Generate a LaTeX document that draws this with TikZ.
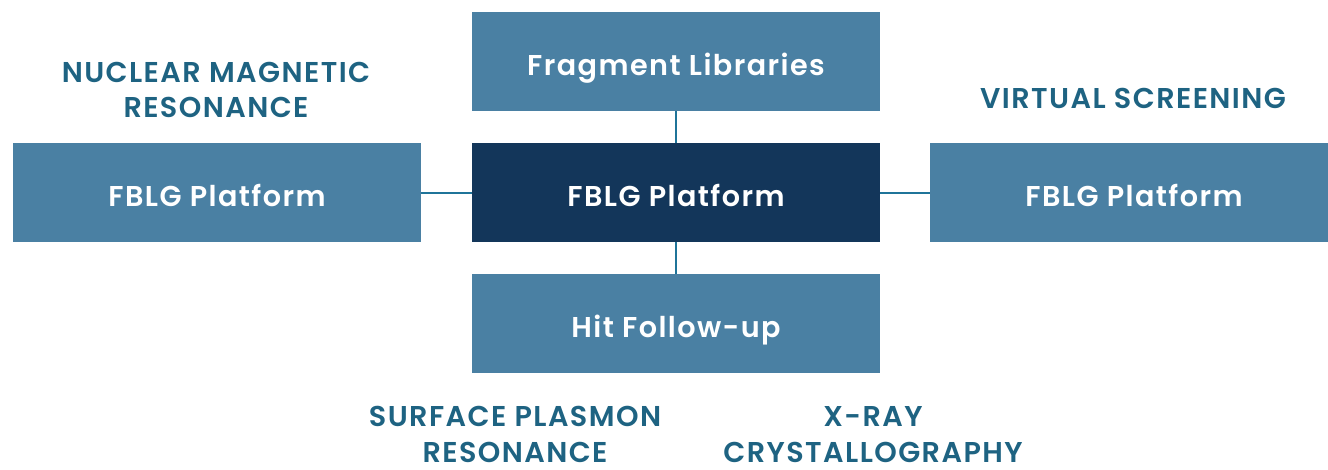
\documentclass[tikz,border=0pt]{standalone}
\usepackage{fontspec}
\setmainfont{Poppins}[BoldFont={Poppins SemiBold}, LetterSpace=5]
\usepackage{tikz}
\usetikzlibrary{positioning}
\usepackage{xcolor}
\definecolor{steel}{HTML}{4A80A3}
\definecolor{deepnavy}{HTML}{13365A}
\definecolor{petrol}{HTML}{1E6382}
\definecolor{linkblue}{HTML}{1F7499}

\tikzset{
  stage/.style={fill=steel, text=white, minimum width=306pt, minimum height=74.25pt,
    inner sep=0pt, text height=21pt, text depth=0.4pt,
    font=\fontsize{21.5}{25}\selectfont\bfseries},
  hub/.style={stage, fill=deepnavy},
  method/.style={text=petrol, align=center, inner sep=0pt,
    font=\fontsize{21.5}{26.5}\selectfont\bfseries},
  link/.style={draw=linkblue, line width=1.5pt}
}

\begin{document}
\begin{tikzpicture}[x=0.75pt, y=0.75pt]
  \useasboundingbox (0,0) rectangle (1328,469);
  % boxes
  \node[hub]   (core)  at (676,276.5) {FBLG Platform};
  \node[stage] (frag)  at (676,407.5) {Fragment Libraries};
  \node[stage] (left)  at (217,276.5) {FBLG Platform};
  \node[stage] (right) at (1134,276.5) {FBLG Platform};
  \node[stage] (hit)   at (676,145.5) {Hit Follow-up};
  % links
  \draw[link] (frag) -- (core);
  \draw[link] (core) -- (hit);
  \draw[link] (left) -- (core);
  \draw[link] (core) -- (right);
  % methods
  \node[method] (nmr) at (216,379) {NUCLEAR MAGNETIC\\RESONANCE};
  \node[method] (vs)  at (1133,371) {VIRTUAL SCREENING};
  \node[method] (spr) at (515,34.5) {SURFACE PLASMON\\RESONANCE};
  \node[method] (xray) at (873,34.5) {X-RAY\\CRYSTALLOGRAPHY};
\end{tikzpicture}
\end{document}
